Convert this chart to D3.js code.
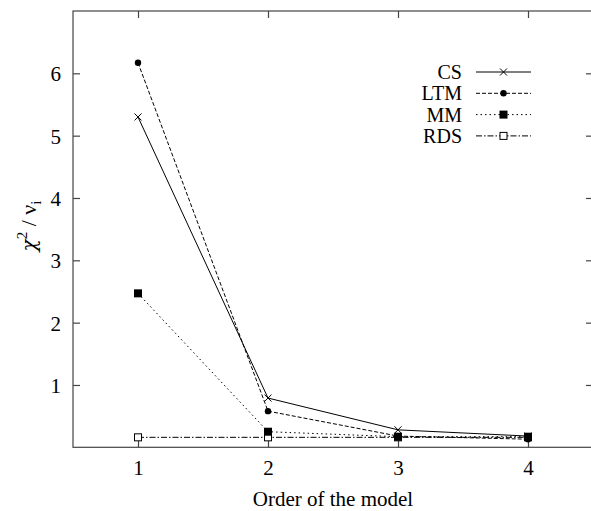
<!DOCTYPE html>
<html lang="en">
<head>
<meta charset="UTF-8">
<title>chi2 vs order</title>
<script src="https://d3js.org/d3.v7.min.js"></script>
<style>
  body { margin: 0; background: #fff; }
  svg text { font-family: "Liberation Serif", "DejaVu Serif", serif; fill: #000; }
  .frame { fill: none; stroke: #444; stroke-width: 1.2px; }
  .tick line { stroke: #444; stroke-width: 1.2px; }
  .series { fill: none; stroke: #000; stroke-width: 1px; }
</style>
</head>
<body>
<script>
  // data
  var orders = [1, 2, 3, 4];
  var csValues = [5.30, 0.79, 0.28, 0.18];
  var ltmValues = [6.17, 0.58, 0.18, 0.13];
  var mmValues = [2.47, 0.25, 0.17, 0.17];
  var rdsValues = [0.16, 0.16, 0.16, 0.16];
  var yTicks = [1, 2, 3, 4, 5, 6];
  var seriesNames = ["CS", "LTM", "MM", "RDS"];

  var series = [
    { name: seriesNames[0], values: csValues, dash: null, marker: "cross" },
    { name: seriesNames[1], values: ltmValues, dash: "4,2", marker: "dot" },
    { name: seriesNames[2], values: mmValues, dash: "1.5,3", marker: "square" },
    { name: seriesNames[3], values: rdsValues, dash: "6,2,1.5,2", marker: "open" }
  ];
  // RDS goes underneath so the filled MM squares stay visible at 3 and 4
  var drawOrder = [3, 0, 1, 2];

  var width = 591, height = 511;
  var plotLeft = 73, plotTop = 11, plotRight = 593, plotBottom = 447.3;
  var fontSize = "21px";

  var x = d3.scaleLinear().domain([0.5, 4.5]).range([plotLeft, plotRight]);
  var y = d3.scaleLinear().domain([0, 7]).range([plotBottom, plotTop]);

  var svg = d3.select("body").append("svg")
    .attr("width", width)
    .attr("height", height);

  // axes with inward ticks, mirrored on the far sides
  var xAxis = svg.append("g")
    .attr("transform", "translate(0," + plotBottom + ")")
    .call(d3.axisBottom(x).tickValues(orders).tickSize(-7).tickPadding(13).tickFormat(d3.format("d")));
  var xTop = svg.append("g")
    .attr("transform", "translate(0," + plotTop + ")")
    .call(d3.axisTop(x).tickValues(orders).tickSize(-7).tickFormat(""));
  var yAxis = svg.append("g")
    .attr("transform", "translate(" + plotLeft + ",0)")
    .call(d3.axisLeft(y).tickValues(yTicks).tickSize(-7).tickPadding(12).tickFormat(d3.format("d")));
  var yRight = svg.append("g")
    .attr("transform", "translate(" + plotRight + ",0)")
    .call(d3.axisRight(y).tickValues(yTicks).tickSize(-7).tickFormat(""));

  [xAxis, xTop, yAxis, yRight].forEach(function (g) {
    g.select(".domain").remove();
    g.selectAll("text").style("font-size", fontSize);
  });
  yAxis.selectAll("text").attr("dy", "0.35em");

  svg.append("rect")
    .attr("class", "frame")
    .attr("x", plotLeft).attr("y", plotTop)
    .attr("width", plotRight - plotLeft).attr("height", plotBottom - plotTop);

  // axis titles
  svg.append("text")
    .attr("x", (x(2) + x(3)) / 2)
    .attr("y", 506)
    .attr("text-anchor", "middle")
    .style("font-size", fontSize)
    .text("Order of the model");

  var ylab = svg.append("text")
    .attr("transform", "translate(36,226) rotate(-90)")
    .attr("text-anchor", "middle")
    .style("font-size", "22px");
  ylab.append("tspan").style("font-family", "DejaVu Serif").style("font-style", "italic")
    .style("font-size", "20px").text("χ");
  ylab.append("tspan").attr("dy", -9).style("font-size", "15px").text("2");
  ylab.append("tspan").attr("dy", 9).text(" / ");
  ylab.append("tspan").text("ν");
  ylab.append("tspan").attr("dy", 5).style("font-size", "15px").text("i");

  function drawMarker(g, type, cx, cy) {
    if (type === "cross") {
      g.append("path")
        .attr("d", "M" + (cx - 3.5) + "," + (cy - 3.5) + "L" + (cx + 3.5) + "," + (cy + 3.5)
          + "M" + (cx - 3.5) + "," + (cy + 3.5) + "L" + (cx + 3.5) + "," + (cy - 3.5))
        .attr("stroke", "#000").attr("stroke-width", 1);
    } else if (type === "dot") {
      g.append("circle").attr("cx", cx).attr("cy", cy).attr("r", 3.2).attr("fill", "#000");
    } else if (type === "square") {
      g.append("rect").attr("x", cx - 4).attr("y", cy - 4)
        .attr("width", 8).attr("height", 8).attr("fill", "#000");
    } else {
      g.append("rect").attr("x", cx - 3.5).attr("y", cy - 3.5)
        .attr("width", 7).attr("height", 7)
        .attr("fill", "#fff").attr("stroke", "#000").attr("stroke-width", 1);
    }
  }

  var line = d3.line()
    .x(function (d, i) { return x(orders[i]); })
    .y(function (d) { return y(d); });

  drawOrder.forEach(function (k) {
    var s = series[k];
    var g = svg.append("g");
    g.append("path")
      .attr("class", "series")
      .attr("d", line(s.values))
      .attr("stroke-dasharray", s.dash);
    s.values.forEach(function (v, i) {
      drawMarker(g, s.marker, x(orders[i]), y(v));
    });
  });

  // legend
  var legend = svg.append("g");
  series.forEach(function (s, i) {
    var ly = 72 + i * 21.3;
    legend.append("text")
      .attr("x", 462).attr("y", ly)
      .attr("dy", "0.35em")
      .attr("text-anchor", "end")
      .style("font-size", "20px")
      .text(s.name);
    legend.append("line")
      .attr("class", "series")
      .attr("x1", 476).attr("x2", 531)
      .attr("y1", ly).attr("y2", ly)
      .attr("stroke-dasharray", s.dash);
    drawMarker(legend, s.marker, 503.5, ly);
  });
</script>
</body>
</html>
